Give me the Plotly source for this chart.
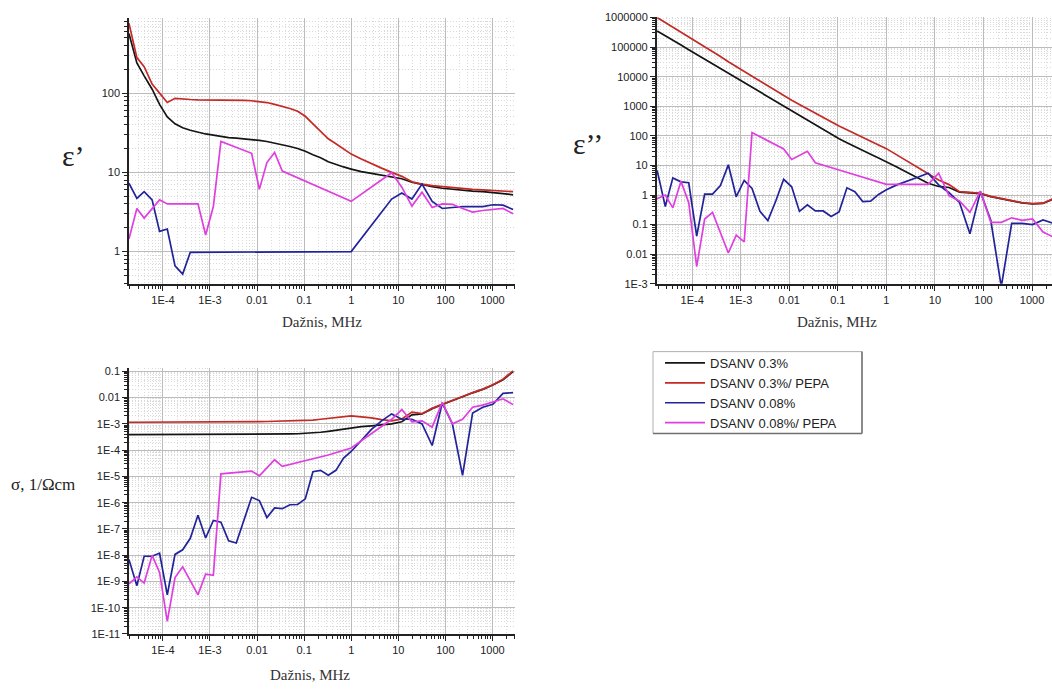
import plotly.graph_objects as go

# ---------------- data ----------------
# measurement frequencies, MHz
FREQ = [1.9e-5, 2.8e-5, 4.0e-5, 5.9e-5, 8.5e-5, 1.24e-4, 1.81e-4, 2.63e-4, 3.82e-4, 5.56e-4,
        8.09e-4, 1.18e-3, 1.71e-3, 2.49e-3, 3.62e-3, 5.27e-3, 7.67e-3, 0.0112, 0.0162, 0.0236,
        0.0344, 0.050, 0.0728, 0.106, 0.154, 0.224, 0.326, 0.474, 0.689, 1.0,
        1.64, 2.69, 4.42, 7.24, 11.9, 19.5, 32.0, 52.5, 86.1, 141, 232, 380, 624, 1023, 1679, 2754]

SERIES_NAMES = ["DSANV 0.3%", "DSANV 0.3%/ PEPA", "DSANV 0.08%", "DSANV 0.08%/ PEPA"]

# epsilon' (real part)
EPS1_DSANV03 = [565, 240, 165, 112, 72, 50, 41, 36.5, 34, 32,
                30.5, 29.5, 28.3, 27.5, 27, 26.5, 26, 25.3, 24.5, 23.5,
                22.3, 21.2, 20, 18.5, 16.7, 15.3, 13.6, 12.5, 11.7, 11.0,
                10.2, 9.7, 9.2, 8.9, 8.3, 7.5, 7.0, 6.6, 6.3, 6.1, 5.9, 5.8, 5.7, 5.6, 5.4, 5.2]
EPS1_DSANV03_PEPA = [760, 280, 215, 130, 100, 76, 86, 84, 83, 82,
                     82, 82, 82, 82, 81.5, 81, 80, 78, 76, 72,
                     68, 64, 59, 51, 41, 33, 26.5, 23, 19.8, 17,
                     14.7, 12.8, 11.3, 10.0, 8.9, 7.6, 7.1, 6.8, 6.6, 6.4, 6.2, 6.1, 6.0, 5.9, 5.8, 5.7]
EPS1_DSANV008 = [7.3, 4.7, 5.7, 4.5, 1.8, 1.93, 0.66, 0.52, 0.98, 0.98,
                 0.98, 1.0, 1.0, 1.0, 1.0, 1.0, 1.0, 1.0, 1.0, 1.0,
                 1.0, 1.0, 1.0, 1.0, 1.0, 1.0, 1.0, 1.0, 1.0, 1.0,
                 None, None, None, 4.6, 5.5, 4.6, 7.1, 4.3, 3.5, 3.6, 3.7, 3.7, 3.7, 3.9, 3.85, 3.4]
EPS1_DSANV008_PEPA = [1.44, 3.5, 2.65, 3.5, 4.5, 4.0, 4.0, 4.0, 4.0, 4.0,
                      1.62, 3.7, 24.5, None, None, None, 17.4, 6.1, 13.3, 17.8,
                      10.4, None, None, None, None, None, None, None, None, 4.3,
                      None, None, None, 9.9, 6.5, 3.75, 5.6, 3.6, 4.0, 3.95, 3.5, 3.15, 3.3, 3.4, 3.5, 3.0]

# epsilon'' (imaginary part)
EPS2_DSANV03 = [3.5e5, 2.45e5, 1.7e5, 1.17e5, 8.1e4, 5.6e4, 3.9e4, 2.7e4, 1.9e4, 1.3e4,
                9.1e3, 6.3e3, 4.4e3, 3.0e3, 2.1e3, 1.5e3, 1.0e3, 710, 490, 340,
                235, 163, 114, 80, 59, 43, 31, 24, 18, 13.5,
                8.9, 5.8, 3.8, 2.5, 1.95, 1.8, 1.25, 1.2, 1.12, 0.88, 0.74, 0.62, 0.54, 0.5, 0.52, 0.74]
EPS2_DSANV03_PEPA = [1.0e6, 6.8e5, 4.6e5, 3.2e5, 2.2e5, 1.5e5, 1.03e5, 6.9e4, 4.8e4, 3.2e4,
                     2.2e4, 1.5e4, 1.0e4, 6.9e3, 4.8e3, 3.3e3, 2.3e3, 1.6e3, 1.15e3, 810,
                     590, 420, 300, 215, 158, 117, 87, 66, 49, 37,
                     23, 14, 8.7, 5.3, 3.2, 2.25, 1.3, 1.23, 1.15, 0.9, 0.75, 0.63, 0.55, 0.51, 0.53, 0.76]
EPS2_DSANV008 = [6.8, 0.41, 3.8, 2.8, 2.6, 0.041, 1.07, 1.07, 2.1, 10.5,
                 0.88, 3.1, 1.66, 0.28, 0.137, 0.63, 3.4, 1.9, 0.28, 0.47,
                 0.29, 0.29, 0.19, 0.27, 1.75, 1.3, 0.6, 0.62, 1.05, 1.5,
                 2.2, 2.9, 4.0, 5.5, 2.2, 1.2, 0.56, 0.049, 1.3, 0.14, 0.0008, 0.11, 0.11, 0.10, 0.145, 0.11]
EPS2_DSANV008_PEPA = [0.75, 1.0, 0.37, 2.9, 0.55, 0.0038, 0.155, 0.26, None, 0.011,
                      0.044, 0.026, 130, None, None, None, 36, 16, None, 30,
                      12.4, None, None, 7.0, None, None, None, None, None, 2.3,
                      None, None, None, 2.3, 5.5, 0.95, 0.63, 0.26, 1.36, 0.12, 0.12, 0.17, 0.14, 0.155, 0.056, 0.038]

# conductivity sigma, 1/(Ohm cm)
SIG_DSANV03 = [3.9e-4, 3.9e-4, 3.9e-4, 3.9e-4, 3.9e-4, 3.9e-4, 4.0e-4, 4.0e-4, 4.0e-4, 4.0e-4,
               4.0e-4, 4.0e-4, 4.0e-4, 4.0e-4, 4.0e-4, 4.0e-4, 4.0e-4, 4.05e-4, 4.05e-4, 4.1e-4,
               4.1e-4, 4.15e-4, 4.2e-4, 4.3e-4, 4.5e-4, 4.8e-4, 5.2e-4, 5.8e-4, 6.4e-4, 7.2e-4,
               7.8e-4, 8.4e-4, 9.0e-4, 1.0e-3, 1.2e-3, 2.2e-3, 2.4e-3, 3.8e-3, 5.5e-3, 7.5e-3,
               0.0108, 0.0152, 0.0205, 0.030, 0.048, 0.098]
SIG_DSANV03_PEPA = [1.15e-3, 1.15e-3, 1.15e-3, 1.15e-3, 1.15e-3, 1.16e-3, 1.16e-3, 1.16e-3, 1.17e-3, 1.17e-3,
                    1.17e-3, 1.18e-3, 1.18e-3, 1.18e-3, 1.19e-3, 1.19e-3, 1.2e-3, 1.22e-3, 1.23e-3, 1.25e-3,
                    1.27e-3, 1.29e-3, 1.32e-3, 1.35e-3, 1.4e-3, 1.5e-3, 1.6e-3, 1.75e-3, 1.9e-3, 2.0e-3,
                    1.85e-3, 1.7e-3, 1.45e-3, 1.3e-3, 1.55e-3, 2.8e-3, 2.45e-3, 3.9e-3, 5.6e-3, 7.6e-3,
                    0.011, 0.0155, 0.021, 0.031, 0.05, 0.105]
SIG_DSANV008 = [6.9e-9, 6.9e-10, 9.1e-9, 9.1e-9, 1.2e-8, 3.1e-10, 1.07e-8, 1.6e-8, 4.4e-8, 3.3e-7,
                4.5e-8, 2.1e-7, 1.8e-7, 3.5e-8, 2.9e-8, 2.1e-7, 1.6e-6, 1.2e-6, 2.7e-7, 6.3e-7,
                5.9e-7, 8.3e-7, 8.5e-7, 1.4e-6, 1.5e-5, 1.7e-5, 1.1e-5, 1.7e-5, 5.0e-5, 8.9e-5,
                2.3e-4, 6.2e-4, 1.3e-3, 2.4e-3, 1.5e-3, 1.5e-3, 1.0e-3, 1.5e-4, 6.2e-3, 1.0e-3,
                1.1e-5, 2.6e-3, 4.3e-3, 5.6e-3, 0.0145, 0.0155]
SIG_DSANV008_PEPA = [8e-10, 1.5e-9, 8.7e-10, 9.8e-9, 2.2e-9, 3e-11, 1.4e-9, 3.6e-9, 1.07e-9, 3.1e-10,
                     1.9e-9, 1.7e-9, 1.25e-5, None, None, None, 1.6e-5, 1.05e-5, None, 4.3e-5,
                     2.4e-5, None, None, 4.0e-5, None, None, 6.5e-5, None, None, 1.2e-4,
                     None, None, None, 1.5e-3, 3.5e-3, 1.2e-3, 1.3e-3, 7.5e-4, 6.6e-3, 1.0e-3,
                     1.5e-3, 4.3e-3, 5.2e-3, 7.0e-3, 9.0e-3, 5.4e-3]

X_TICKVALS = [1e-4, 1e-3, 0.01, 0.1, 1, 10, 100, 1000]
X_TICKTEXT = ["1E-4", "1E-3", "0.01", "0.1", "1", "10", "100", "1000"]
Y1_TICKVALS = [1, 10, 100]
Y1_TICKTEXT = ["1", "10", "100"]
Y2_TICKVALS = [1e-3, 0.01, 0.1, 1, 10, 100, 1000, 1e4, 1e5, 1e6]
Y2_TICKTEXT = ["1E-3", "0.01", "0.1", "1", "10", "100", "1000", "10000", "100000", "1000000"]
Y3_TICKVALS = [1e-11, 1e-10, 1e-9, 1e-8, 1e-7, 1e-6, 1e-5, 1e-4, 1e-3, 0.01, 0.1]
Y3_TICKTEXT = ["1E-11", "1E-10", "1E-9", "1E-8", "1E-7", "1E-6", "1E-5", "1E-4", "1E-3", "0.01", "0.1"]

# ---------------- styling ----------------
W, H = 1052, 694
COLORS = ["#151515", "#c42a26", "#22229a", "#df3fdf"]
TICKFONT = dict(family="Liberation Sans, Arial, sans-serif", size=11, color="#222")
SERIF = "Liberation Serif, Times New Roman, serif"


def px_x(p):
    return p / W


def px_y(p):
    return 1 - p / H


def minor_vals(lo, hi):
    return [m * 10 ** e for e in range(lo, hi + 1) for m in range(2, 10)]


def axis_cfg(domain, rng, anchor, tickvals, ticktext, mlo, mhi):
    return dict(type="log", domain=domain, range=rng, anchor=anchor,
                tickmode="array", tickvals=tickvals, ticktext=ticktext,
                ticks="outside", ticklen=5, tickwidth=1.2, tickcolor="#222",
                showline=True, linecolor="#222", linewidth=1.5, mirror=False,
                showgrid=True, gridcolor="#bcbcbc", gridwidth=1,
                zeroline=False, tickfont=TICKFONT,
                minor=dict(tickmode="array", tickvals=minor_vals(mlo, mhi),
                           ticks="outside", ticklen=3, tickcolor="#222", tickwidth=1,
                           showgrid=True, gridcolor="#dadada", griddash="1px,2px", gridwidth=1))


fig = go.Figure()
panels = [
    ("x", "y", [EPS1_DSANV03, EPS1_DSANV03_PEPA, EPS1_DSANV008, EPS1_DSANV008_PEPA]),
    ("x2", "y2", [EPS2_DSANV03, EPS2_DSANV03_PEPA, EPS2_DSANV008, EPS2_DSANV008_PEPA]),
    ("x3", "y3", [SIG_DSANV03, SIG_DSANV03_PEPA, SIG_DSANV008, SIG_DSANV008_PEPA]),
]
for pi, (xa, ya, data) in enumerate(panels):
    for si, vals in enumerate(data):
        fig.add_trace(go.Scatter(
            x=FREQ, y=vals, xaxis=xa, yaxis=ya, mode="lines",
            name=SERIES_NAMES[si], legendgroup=SERIES_NAMES[si],
            showlegend=(pi == 0), connectgaps=True,
            line=dict(color=COLORS[si], width=1.7)))

L1, R1 = px_x(129), px_x(515)
fig.update_layout(
    width=W, height=H, autosize=False,
    margin=dict(l=0, r=0, t=0, b=0),
    paper_bgcolor="white", plot_bgcolor="white",
    xaxis=axis_cfg([L1, R1], [-4.72, 3.48], "y", X_TICKVALS, X_TICKTEXT, -5, 3),
    yaxis=axis_cfg([px_y(283), px_y(12)], [-0.41, 2.95], "x", Y1_TICKVALS, Y1_TICKTEXT, -1, 2),
    xaxis2=axis_cfg([px_x(656.7), 1.0], [-4.73, 3.41], "y2", X_TICKVALS, X_TICKTEXT, -5, 3),
    yaxis2=axis_cfg([px_y(282.7), px_y(11.7)], [-3, 6], "x2", Y2_TICKVALS, Y2_TICKTEXT, -3, 5),
    xaxis3=axis_cfg([L1, R1], [-4.72, 3.48], "y3", X_TICKVALS, X_TICKTEXT, -5, 3),
    yaxis3=axis_cfg([px_y(639), px_y(368.3)], [-11, -0.87], "x3", Y3_TICKVALS, Y3_TICKTEXT, -11, -1),
    showlegend=True,
    legend=dict(x=px_x(660), y=px_y(348), xanchor="left", yanchor="top",
                bgcolor="rgba(0,0,0,0)", borderwidth=0, itemwidth=40,
                font=dict(family="Liberation Sans, Arial, sans-serif", size=13, color="#222"),
                tracegroupgap=0),
)

# legend frame
fig.add_shape(type="rect", xref="paper", yref="paper",
              x0=px_x(653), x1=px_x(862), y0=px_y(435), y1=px_y(351.7),
              line=dict(color="#b0b0b0", width=1), fillcolor="rgba(0,0,0,0)", layer="below")
fig.add_shape(type="line", xref="paper", yref="paper",
              x0=px_x(653), x1=px_x(862), y0=px_y(435), y1=px_y(435),
              line=dict(color="#707070", width=1.5))
fig.add_shape(type="line", xref="paper", yref="paper",
              x0=px_x(862), x1=px_x(862), y0=px_y(435), y1=px_y(351.7),
              line=dict(color="#707070", width=1.5))

annots = [
    ("ε’", 73, 152, 30, SERIF, "#222"),
    ("ε’’", 588, 140, 30, SERIF, "#222"),
    ("σ, 1/Ωcm", 43, 487, 17, SERIF, "#222"),
    ("Dažnis, MHz", 322, 322, 15, SERIF, "#333"),
    ("Dažnis, MHz", 837, 322, 15, SERIF, "#333"),
    ("Dažnis, MHz", 310, 681, 15, SERIF, "#333"),
]
for text, x, y, size, fam, col in annots:
    fig.add_annotation(text=text, x=px_x(x), y=px_y(y), xref="paper", yref="paper",
                       showarrow=False, xanchor="center", yanchor="middle",
                       font=dict(family=fam, size=size, color=col))

fig.write_html("out.html")
